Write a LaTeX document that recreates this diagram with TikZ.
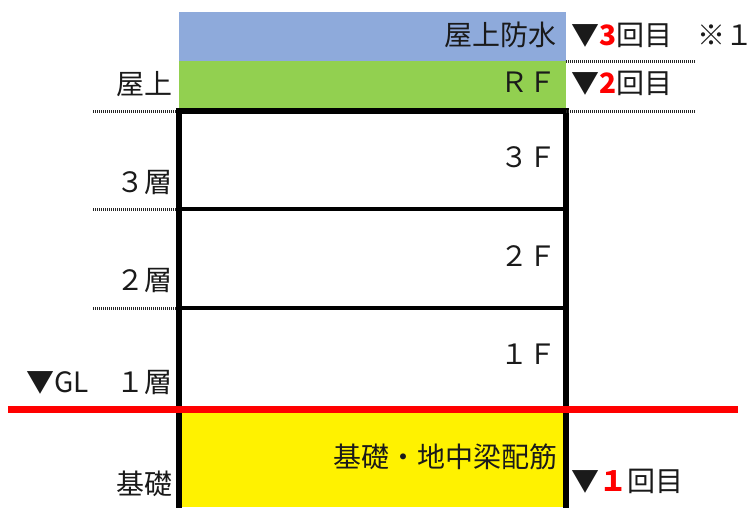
\documentclass[tikz,border=0pt]{standalone}
\usepackage{fontspec}
\setmainfont{Noto Sans CJK JP}
\definecolor{roofblue}{HTML}{8EAADB}
\definecolor{rfgreen}{HTML}{92D050}
\definecolor{txt}{HTML}{1A1A1A}
\begin{document}
\begin{tikzpicture}[x=1pt,y=-1pt,
  lbl/.style={inner sep=0pt,font=\fontsize{28}{28}\selectfont,text=txt,text height=0.88em,text depth=0.12em},
  frame/.style={line width=6pt,line cap=rect},
  floorline/.style={line width=3.5pt},
  dotline/.style={line width=3pt,dash pattern=on 1pt off 1pt,draw=black!85}]
\useasboundingbox (0,0) rectangle (753,507);
% fills
\fill[roofblue] (179,12) rectangle (566,61);
\fill[rfgreen] (179,61) rectangle (566,108);
\fill[yellow] (179,409) rectangle (566,507);
% floor lines
\draw[floorline] (179,209) -- (566,209);
\draw[floorline] (179,308) -- (566,308);
% frame
\coordinate (fbl) at (179,507);
\coordinate (ftl) at (179,111);
\coordinate (ftr) at (566,111);
\coordinate (fbr) at (566,507);
\draw[frame] (fbl) -- (ftl) -- (ftr) -- (fbr);
% red GL line
\coordinate (gl1) at (8,409);
\coordinate (gl2) at (738,409);
\draw[red,line width=7pt] (gl1) -- (gl2);
% dotted lines
\coordinate (dl1a) at (93,111); \coordinate (dl1b) at (176,111);
\coordinate (dl2a) at (93,209); \coordinate (dl2b) at (176,209);
\coordinate (dl3a) at (93,308); \coordinate (dl3b) at (176,308);
\coordinate (dr1a) at (566,61); \coordinate (dr1b) at (695,61);
\coordinate (dr2a) at (566,111); \coordinate (dr2b) at (695,111);
\draw[dotline] (dl1a) -- (dl1b);
\draw[dotline] (dl2a) -- (dl2b);
\draw[dotline] (dl3a) -- (dl3b);
\draw[dotline] (dr1a) -- (dr1b);
\draw[dotline] (dr2a) -- (dr2b);
% inner labels
\node[lbl,anchor=east] (bousui) at (557,42) {屋上防水};
\node[lbl,anchor=east] (rf) at (557,89) {ＲＦ};
\node[lbl,anchor=east] (f3) at (557,164) {３Ｆ};
\node[lbl,anchor=east] (f2) at (557,263) {２Ｆ};
\node[lbl,anchor=east] (f1) at (557,361) {１Ｆ};
\node[lbl,anchor=east] (kiso2) at (558,464) {基礎・地中梁配筋};
% left labels
\node[lbl,anchor=east] (okujo) at (173,91) {屋上};
\node[lbl,anchor=east] (s3) at (173,189) {３層};
\node[lbl,anchor=east] (s2) at (173,287) {２層};
\node[lbl,anchor=east] (s1) at (173,389) {▼GL　１層};
\node[lbl,anchor=east] (kiso) at (173,491) {基礎};
% right labels
\node[lbl,anchor=west] (k3) at (571,42) {▼{\color{red}\bfseries 3}回目};
\node[lbl,anchor=west] (note) at (697,42) {※１};
\node[lbl,anchor=west] (k2) at (571,90) {▼{\color{red}\bfseries 2}回目};
\node[lbl,anchor=west] (k1) at (571,488) {▼{\color{red}\bfseries １}回目};
\end{tikzpicture}
\end{document}
